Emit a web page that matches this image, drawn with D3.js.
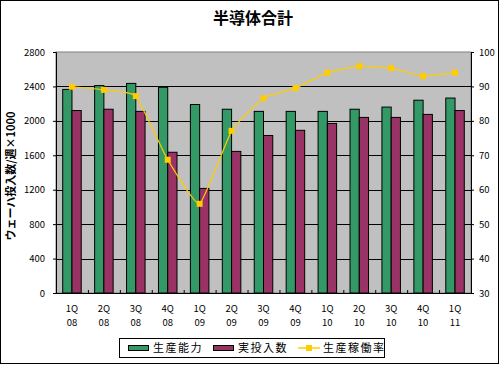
<!DOCTYPE html>
<html>
<head>
<meta charset="utf-8">
<script src="https://cdn.jsdelivr.net/npm/d3@7"></script>
<style>
  body { margin: 0; background: #fff; }
  text { font-family: "Noto Sans CJK JP", "DejaVu Sans", sans-serif; }
</style>
</head>
<body>
<div id="chart"></div>
<script>
// datos
var trimestres = ["1Q", "2Q", "3Q", "4Q", "1Q", "2Q", "3Q", "4Q", "1Q", "2Q", "3Q", "4Q", "1Q"];
var anios = ["08", "08", "08", "08", "09", "09", "09", "09", "10", "10", "10", "10", "11"];
var capacidad = [2365, 2410, 2435, 2390, 2190, 2135, 2110, 2110, 2110, 2135, 2160, 2240, 2265];
var insumos = [2120, 2135, 2110, 1635, 1215, 1645, 1830, 1890, 1970, 2040, 2040, 2075, 2120];
var utilizacion = [89.9, 89.0, 87.2, 68.7, 55.9, 77.1, 86.6, 89.5, 94.0, 95.9, 95.3, 93.0, 94.0];
var ticksIzq = [0, 400, 800, 1200, 1600, 2000, 2400, 2800];
var ticksDer = [30, 40, 50, 60, 70, 80, 90, 100];
var nombresSeries = ["生産能力", "実投入数", "生産稼働率"];

var ancho = 500, alto = 365;
var area = { left: 56, right: 471, top: 52, bottom: 293 };
var verde = "#339966", morado = "#993366", amarillo = "#FFCC00";

var svg = d3.select("#chart").append("svg")
    .attr("width", ancho)
    .attr("height", alto);

// marco exterior
svg.append("rect")
    .attr("x", 0.5).attr("y", 0.5)
    .attr("width", ancho - 2).attr("height", alto - 2)
    .attr("fill", "#fff")
    .attr("stroke", "#000");

svg.append("text")
    .attr("x", 253).attr("y", 24)
    .attr("text-anchor", "middle")
    .attr("font-size", 16)
    .attr("font-weight", "bold")
    .text("半導体合計");

var indices = d3.range(trimestres.length);

var x0 = d3.scaleBand().domain(indices).range([area.left, area.right]);
var x1 = d3.scaleBand().domain([0, 1])
    .range([x0.bandwidth() * 0.21, x0.bandwidth() * 0.79]);
var yIzq = d3.scaleLinear().domain([0, 2800]).range([area.bottom, area.top]);
var yDer = d3.scaleLinear().domain([30, 100]).range([area.bottom, area.top]);

// fondo gris
svg.append("rect")
    .attr("x", area.left).attr("y", area.top)
    .attr("width", area.right - area.left)
    .attr("height", area.bottom - area.top)
    .attr("fill", "#C0C0C0")
    .attr("stroke", "#808080");

// lineas de cuadricula
svg.append("g")
    .selectAll("line")
    .data(ticksIzq.slice(1, -1))
    .enter().append("line")
    .attr("x1", area.left).attr("x2", area.right)
    .attr("y1", function (d) { return Math.round(yIzq(d)) + 0.5; })
    .attr("y2", function (d) { return Math.round(yIzq(d)) + 0.5; })
    .attr("stroke", "#000");

// barras
var grupos = svg.append("g")
    .selectAll("g")
    .data(indices)
    .enter().append("g")
    .attr("transform", function (i) { return "translate(" + x0(i) + ",0)"; });

grupos.append("rect")
    .attr("x", x1(0))
    .attr("y", function (i) { return yIzq(capacidad[i]); })
    .attr("width", x1.bandwidth())
    .attr("height", function (i) { return area.bottom - yIzq(capacidad[i]); })
    .attr("fill", verde)
    .attr("stroke", "#000");

grupos.append("rect")
    .attr("x", x1(1))
    .attr("y", function (i) { return yIzq(insumos[i]); })
    .attr("width", x1.bandwidth())
    .attr("height", function (i) { return area.bottom - yIzq(insumos[i]); })
    .attr("fill", morado)
    .attr("stroke", "#000");

// linea de utilizacion
var centro = function (i) { return x0(i) + x0.bandwidth() / 2; };
var linea = d3.line()
    .x(function (d, i) { return centro(i); })
    .y(function (d) { return yDer(d); })
    .curve(d3.curveCardinal.tension(0.6));

svg.append("path")
    .datum(utilizacion)
    .attr("d", linea)
    .attr("fill", "none")
    .attr("stroke", amarillo)
    .attr("stroke-width", 1.2);

svg.append("g")
    .selectAll("rect")
    .data(utilizacion)
    .enter().append("rect")
    .attr("x", function (d, i) { return centro(i) - 3; })
    .attr("y", function (d) { return yDer(d) - 3; })
    .attr("width", 6).attr("height", 6)
    .attr("fill", amarillo);

// ejes
var ejeIzq = svg.append("g")
    .attr("transform", "translate(" + area.left + ",0)")
    .call(d3.axisLeft(yIzq).tickValues(ticksIzq).tickFormat(d3.format("d"))
        .tickSize(3).tickPadding(8));

var ejeDer = svg.append("g")
    .attr("transform", "translate(" + area.right + ",0)")
    .call(d3.axisRight(yDer).tickValues(ticksDer).tickFormat(d3.format("d"))
        .tickSize(3).tickPadding(5));

var ejeX = svg.append("g")
    .attr("transform", "translate(0," + area.bottom + ")")
    .call(d3.axisBottom(d3.scaleLinear().domain([0, 13]).range([area.left, area.right]))
        .tickValues(d3.range(14)).tickSize(-3).tickFormat(""));

[ejeIzq, ejeDer, ejeX].forEach(function (eje) {
    eje.select(".domain").attr("stroke", "#000");
    eje.selectAll(".tick line").attr("stroke", "#000");
    eje.selectAll("text")
        .attr("font-size", 9.5)
        .attr("font-family", "'Liberation Sans', sans-serif")
        .attr("fill", "#000");
});

// etiquetas de categoria en dos renglones
var etiquetas = svg.append("g")
    .selectAll("text")
    .data(indices)
    .enter().append("text")
    .attr("x", function (i) { return centro(i); })
    .attr("text-anchor", "middle")
    .attr("font-size", 9.5)
    .attr("font-family", "'Liberation Sans', sans-serif");

etiquetas.append("tspan")
    .attr("x", function (i) { return centro(i); })
    .attr("y", 312)
    .text(function (i) { return trimestres[i]; });

etiquetas.append("tspan")
    .attr("x", function (i) { return centro(i); })
    .attr("y", 326)
    .text(function (i) { return anios[i]; });

// titulo del eje izquierdo
svg.append("text")
    .attr("transform", "translate(15,176) rotate(-90)")
    .attr("text-anchor", "middle")
    .attr("font-size", 11)
    .attr("font-weight", "bold")
    .text("ウェーハ投入数/週×1000");

// leyenda
var leyenda = svg.append("g");
leyenda.append("rect")
    .attr("x", 119.5).attr("y", 338.5)
    .attr("width", 265).attr("height", 19)
    .attr("fill", "#fff")
    .attr("stroke", "#000");

var posLeyenda = [128, 213, 298];
var coloresLeyenda = [verde, morado, amarillo];

nombresSeries.forEach(function (nombre, k) {
    var px = posLeyenda[k];
    if (k < 2) {
        leyenda.append("rect")
            .attr("x", px + 0.5).attr("y", 345.5)
            .attr("width", 20).attr("height", 5)
            .attr("fill", coloresLeyenda[k])
            .attr("stroke", "#000");
    } else {
        leyenda.append("line")
            .attr("x1", px).attr("x2", px + 22)
            .attr("y1", 348).attr("y2", 348)
            .attr("stroke", amarillo)
            .attr("stroke-width", 1.5);
        leyenda.append("rect")
            .attr("x", px + 8).attr("y", 345)
            .attr("width", 6).attr("height", 6)
            .attr("fill", amarillo);
    }
    leyenda.append("text")
        .attr("x", px + 25)
        .attr("y", 352)
        .attr("font-size", 11)
        .attr("letter-spacing", 1.5)
        .text(nombre);
});
</script>
</body>
</html>
